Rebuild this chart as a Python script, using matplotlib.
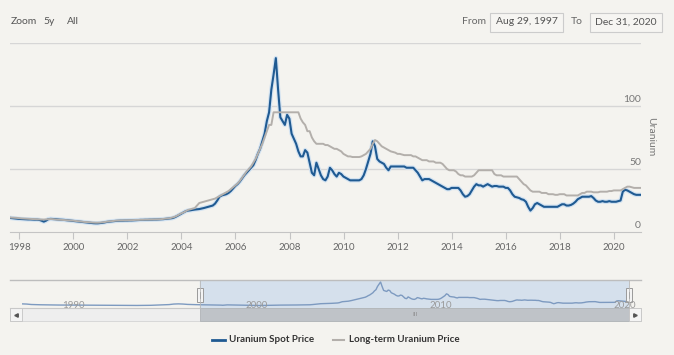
import numpy as np
import matplotlib
matplotlib.use('Agg')
import matplotlib.pyplot as plt
from matplotlib.patches import Rectangle
from matplotlib.lines import Line2D
from matplotlib.transforms import blended_transform_factory

plt.rcParams['font.family'] = ['Lato', 'DejaVu Sans']

W, H = 674, 355
BG = '#f4f3ef'
SPOT_C = '#1f5a92'
LT_C = '#b3afab'

# monthly prices, Aug 1997 - Dec 2020 (USD/lb)
spot_price = [
    11.2, 11.0, 10.8, 10.6, 10.4,                                        # 1997
    10.3, 10.2, 10.1, 10.0, 10.0, 9.9, 9.8, 9.8, 9.6, 9.0, 8.2, 9.0,     # 1998
    10.2, 10.4, 10.3, 10.2, 10.0, 9.8, 9.7, 9.6, 9.4, 9.2, 9.0, 8.8,     # 1999
    8.6, 8.4, 8.2, 8.0, 7.8, 7.6, 7.4, 7.2, 7.0, 6.9, 6.9, 7.1,          # 2000
    7.3, 7.6, 8.0, 8.2, 8.4, 8.6, 8.8, 8.9, 9.0, 9.0, 9.1, 9.1,          # 2001
    9.2, 9.2, 9.3, 9.4, 9.5, 9.6, 9.6, 9.7, 9.7, 9.8, 9.8, 9.9,          # 2002
    9.9, 10.0, 10.1, 10.2, 10.4, 10.6, 10.8, 11.0, 11.6, 12.5, 13.5, 14.5,  # 2003
    15.5, 16.5, 17.0, 17.2, 17.5, 17.8, 18.0, 18.2, 18.6, 19.0, 19.5, 20.0,  # 2004
    20.5, 21.0, 22.5, 25.0, 28.0, 29.0, 29.5, 30.0, 31.0, 32.5, 34.5, 36.5,  # 2005
    38.0, 40.0, 42.5, 45.0, 47.0, 49.0, 51.0, 53.0, 57.0, 62.0, 66.0, 72.0,  # 2006
    78.0, 88.0, 95.0, 113.0, 125.0, 138.0, 113.0, 91.0, 88.0, 85.0, 93.0, 90.0,  # 2007
    78.0, 74.0, 70.0, 64.0, 60.0, 60.0, 65.0, 63.0, 55.0, 47.0, 45.0, 55.0,  # 2008
    50.0, 45.0, 42.0, 41.0, 44.0, 51.0, 49.0, 46.0, 44.0, 47.0, 46.0, 44.0,  # 2009
    43.0, 42.0, 41.0, 41.0, 41.0, 41.0, 41.0, 42.0, 45.0, 50.0, 56.0, 62.0,  # 2010
    72.0, 68.0, 58.0, 56.0, 55.0, 54.0, 51.0, 49.0, 52.0, 52.0, 52.0, 52.0,  # 2011
    52.0, 52.0, 52.0, 51.0, 51.0, 51.0, 51.0, 49.0, 47.0, 44.0, 41.0, 42.0,  # 2012
    42.0, 42.0, 41.0, 40.0, 39.0, 38.0, 37.0, 36.0, 35.0, 34.0, 34.0, 35.0,  # 2013
    35.0, 35.0, 35.0, 33.0, 30.0, 28.0, 28.5, 30.0, 33.0, 36.0, 38.0, 37.0,  # 2014
    37.0, 36.0, 37.0, 38.0, 37.0, 36.0, 36.5, 36.5, 36.0, 36.0, 36.0, 35.0,  # 2015
    35.0, 33.0, 30.0, 28.0, 27.5, 27.0, 26.0, 25.5, 24.0, 20.0, 17.0, 19.0,  # 2016
    22.0, 23.0, 22.0, 21.0, 20.0, 20.0, 20.0, 20.0, 20.0, 20.0, 20.0, 21.0,  # 2017
    22.0, 22.0, 21.0, 21.0, 21.5, 22.5, 24.0, 26.0, 27.0, 28.0, 28.0, 28.0,  # 2018
    28.0, 28.5, 27.0, 25.0, 24.0, 24.0, 24.5, 24.0, 24.0, 24.5, 24.0, 24.0,  # 2019
    24.0, 24.5, 25.0, 32.0, 33.5, 33.0, 32.0, 31.0, 30.0, 29.5, 29.5, 29.5,  # 2020
]

longterm_price = [
    11.5, 11.4, 11.3, 11.2, 11.0,                                        # 1997
    10.8, 10.7, 10.6, 10.5, 10.4, 10.3, 10.2, 10.1, 10.0, 9.9, 9.9, 10.0,  # 1998
    10.2, 10.3, 10.2, 10.0, 9.8, 9.7, 9.6, 9.5, 9.4, 9.2, 9.1, 9.0,      # 1999
    8.8, 8.6, 8.4, 8.2, 8.0, 7.9, 7.8, 7.6, 7.5, 7.4, 7.4, 7.5,          # 2000
    7.7, 7.9, 8.2, 8.4, 8.6, 8.8, 9.0, 9.1, 9.2, 9.2, 9.3, 9.3,          # 2001
    9.4, 9.4, 9.5, 9.6, 9.6, 9.7, 9.7, 9.8, 9.8, 9.9, 9.9, 10.0,         # 2002
    10.0, 10.1, 10.2, 10.4, 10.6, 10.8, 11.0, 11.5, 12.0, 12.8, 13.8, 14.8,  # 2003
    15.5, 16.5, 17.5, 18.0, 18.5, 19.0, 21.0, 23.0, 23.5, 24.0, 24.5, 25.0,  # 2004
    25.5, 26.0, 26.5, 27.5, 28.5, 29.5, 30.5, 31.5, 32.5, 34.0, 35.5, 37.0,  # 2005
    38.5, 40.5, 43.0, 45.5, 48.0, 50.0, 52.0, 55.0, 58.0, 62.0, 66.0, 70.0,  # 2006
    75.0, 80.0, 85.0, 85.0, 95.0, 95.0, 95.0, 95.0, 95.0, 95.0, 95.0, 95.0,  # 2007
    95.0, 95.0, 95.0, 95.0, 90.0, 87.0, 85.0, 80.0, 80.0, 75.0, 72.0, 70.0,  # 2008
    70.0, 70.0, 70.0, 69.0, 69.0, 68.0, 67.0, 66.0, 66.0, 65.0, 64.0, 62.0,  # 2009
    61.0, 60.0, 60.0, 59.5, 59.5, 59.5, 59.5, 60.0, 61.0, 62.0, 64.0, 66.0,  # 2010
    70.0, 73.0, 72.0, 70.0, 68.0, 67.0, 66.0, 65.0, 64.0, 63.5, 63.0, 62.0,  # 2011
    62.0, 61.5, 61.0, 61.0, 61.0, 61.0, 60.0, 60.0, 59.0, 58.0, 57.0, 57.0,  # 2012
    57.0, 56.0, 56.0, 56.0, 55.0, 55.0, 55.0, 54.0, 52.0, 50.0, 49.0, 49.0,  # 2013
    49.0, 48.0, 46.0, 45.0, 45.0, 44.0, 44.0, 44.0, 44.0, 45.0, 47.0, 49.0,  # 2014
    49.0, 49.0, 49.0, 49.0, 49.0, 49.0, 46.0, 45.0, 45.0, 45.0, 44.0, 44.0,  # 2015
    44.0, 44.0, 44.0, 44.0, 44.0, 42.0, 40.0, 38.0, 37.0, 35.0, 33.0, 32.0,  # 2016
    32.0, 32.0, 32.0, 31.0, 31.0, 31.0, 30.0, 30.0, 30.0, 29.5, 29.5, 30.0,  # 2017
    30.0, 30.0, 29.0, 29.0, 29.0, 29.0, 29.0, 29.0, 30.0, 31.0, 31.0, 32.0,  # 2018
    32.0, 32.0, 31.5, 31.5, 31.5, 32.0, 32.0, 32.0, 32.0, 32.5, 32.5, 33.0,  # 2019
    33.0, 33.0, 33.0, 34.0, 35.0, 36.0, 36.0, 35.5, 35.0, 35.0, 35.0, 35.0,  # 2020
]

# navigator history before the selected range, quarterly 1988 - mid 1997
early_spot = [
    16.0, 15.0, 12.5, 11.5, 11.0, 10.5, 10.0, 10.0, 9.5, 9.5, 9.8, 10.0,
    9.5, 9.0, 8.8, 8.5, 8.0, 7.8, 7.6, 7.5, 7.3, 7.2, 7.1, 7.1,
    7.2, 7.2, 7.4, 7.5, 8.0, 9.0, 10.0, 11.0, 12.0, 15.0, 16.0, 15.0,
    13.0, 12.0, 11.5,
]

year_ticks = list(range(1998, 2021, 2))
nav_ticks = [1990, 2000, 2010, 2020]
y_labels = [0, 50, 100]


def fx(x):
    return x / W


def fy(y):
    return 1 - y / H


x_main = 1997.66 + np.arange(len(spot_price)) / 12.0
x_early = 1988.0 + np.arange(len(early_spot)) * 0.25

fig = plt.figure(figsize=(W / 100, H / 100), dpi=100, facecolor=BG)

# main chart
ax = fig.add_axes([fx(10), fy(232), fx(631), 189 / H])
ax.patch.set_alpha(0)
ax.set_xlim(1997.66, 2021.0)
ax.set_ylim(0, 150)
for v in (50, 100, 150):
    ax.axhline(v, color='#d6d6d6', lw=1, zorder=1)
for s in ('top', 'left', 'right'):
    ax.spines[s].set_visible(False)
ax.spines['bottom'].set_color('#c4c4c4')
ax.set_yticks([])
ax.set_xticks(year_ticks)
ax.set_xticklabels([str(y) for y in year_ticks])
ax.tick_params(axis='x', length=5, color='#c4c4c4', labelcolor='#666666',
               labelsize=7, pad=3)

ax.plot(x_main, spot_price, color='#d2e2f1', lw=3.2, zorder=2,
        solid_capstyle='round')
ax.plot(x_main, spot_price, color=SPOT_C, lw=1.5, zorder=3)
ax.plot(x_main, longterm_price, color=LT_C, lw=1.4, zorder=4)

tr = blended_transform_factory(ax.transAxes, ax.transData)
for v in y_labels:
    ax.annotate(str(v), (1.0, v), xycoords=tr, xytext=(0, 1.5),
                textcoords='offset points', ha='right', va='bottom',
                fontsize=7.5, color='#777777')

fig.text(fx(651), fy(137), 'Uranium', rotation=-90, ha='center', va='center',
         fontsize=7.5, color='#777777')

# navigator
nav = fig.add_axes([fx(22), fy(308), fx(607), 28 / H])
nav.set_xlim(1988.0, 2021.0)
nav.set_ylim(-7, 149)
nav.axis('off')
nav.axvspan(1997.66, 2021.0, color='#d5e0ec', zorder=0)
nav.plot(np.concatenate([x_early, x_main]),
         np.concatenate([early_spot, spot_price]),
         color='#7d9ac0', lw=1, zorder=2)
for y in nav_ticks:
    xp = 22 + (y - 1988.0) * 607 / 33.0 + 3
    fig.text(fx(xp), fy(305), str(y), ha='left', va='center', fontsize=7,
             color='#9a9a9a', zorder=1)

fig.add_artist(Line2D([fx(10), fx(641)], [fy(280), fy(280)], color='#bdbdbd', lw=1))
fig.add_artist(Line2D([fx(10), fx(200)], [fy(308), fy(308)], color='#c8c8c8', lw=0.8))

# scrollbar
fig.add_artist(Rectangle((fx(10), fy(321)), fx(631), 13 / H, facecolor='#eeeeee',
                         edgecolor='#d4d4d4', lw=0.6))
fig.add_artist(Rectangle((fx(200), fy(321)), fx(429), 13 / H, facecolor='#bfc3c8',
                         edgecolor='#b0b4b8', lw=0.6))
fig.text(fx(415), fy(314.5), 'III', ha='center', va='center', fontsize=4.5,
         color='#8a8a8a')
for bx, mk in ((10, '<'), (629, '>')):
    fig.add_artist(Rectangle((fx(bx), fy(321)), fx(12), 13 / H, facecolor='#f4f4f4',
                             edgecolor='#c4c4c4', lw=0.6))
    fig.add_artist(Line2D([fx(bx + 6)], [fy(314.5)], marker=mk, markersize=2.5,
                          color='#555555', lw=0))

# navigator handles
for hx in (200, 629):
    fig.add_artist(Line2D([fx(hx), fx(hx)], [fy(280), fy(308)], color='#b8b8b8', lw=0.6))
    fig.add_artist(Rectangle((fx(hx - 3), fy(302)), fx(6), 14 / H, facecolor='#f3f3f3',
                             edgecolor='#9a9a9a', lw=0.7))
    fig.add_artist(Line2D([fx(hx), fx(hx)], [fy(292), fy(298)], color='#9a9a9a', lw=0.5))

# legend
fig.add_artist(Line2D([fx(212), fx(225)], [fy(340), fy(340)], color=SPOT_C, lw=2))
fig.text(fx(229), fy(340), 'Uranium Spot Price', ha='left', va='center',
         fontsize=7, fontweight='bold', color='#333333')
fig.add_artist(Line2D([fx(333), fx(344)], [fy(340), fy(340)], color=LT_C, lw=1.5))
fig.text(fx(349), fy(340), 'Long-term Uranium Price', ha='left', va='center',
         fontsize=7, fontweight='bold', color='#333333')

# range selector row
for txt, xp in (('Zoom', 11), ('5y', 43), ('All', 67)):
    fig.text(fx(xp), fy(22), txt, ha='left', va='center', fontsize=7.5,
             color='#555555')
fig.text(fx(462), fy(22), 'From', ha='left', va='center', fontsize=7.5,
         color='#666666')
fig.text(fx(571), fy(22), 'To', ha='left', va='center', fontsize=7.5,
         color='#666666')
for x0, x1, txt in ((490, 563, 'Aug 29, 1997'), (590, 662, 'Dec 31, 2020')):
    fig.add_artist(Rectangle((fx(x0), fy(32)), fx(x1 - x0), 19 / H,
                             facecolor='#f6f5f2', edgecolor='#cccccc', lw=0.8))
    fig.text(fx((x0 + x1) / 2), fy(22), txt, ha='center', va='center',
             fontsize=7.5, color='#555555')

fig.savefig('out.png', dpi=100, facecolor=BG)
